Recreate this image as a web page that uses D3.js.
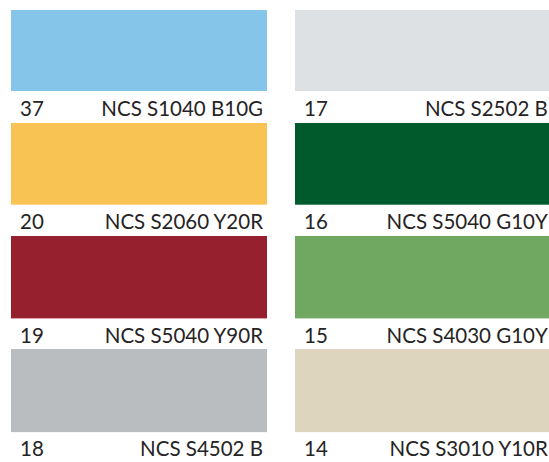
<!DOCTYPE html>
<html><head><meta charset="utf-8">
<script src="https://cdn.jsdelivr.net/npm/d3@7/dist/d3.min.js"></script>
<style>html,body{margin:0;padding:0;background:#fff;overflow:hidden}</style>
</head><body><div id="chart"></div>
<script>
const numbers = [37, 20, 19, 18, 17, 16, 15, 14];
const codes = ["NCS S1040 B10G","NCS S2060 Y20R","NCS S5040 Y90R","NCS S4502 B",
               "NCS S2502 B","NCS S5040 G10Y","NCS S4030 G10Y","NCS S3010 Y10R"];
const colors = ["#86c5ea","#f8c353","#97202e","#babdc0","#dee1e4","#015a2c","#70a862","#ddd5bd"];
const columns = [0,0,0,0,1,1,1,1];
const rows = [0,1,2,3,0,1,2,3];

const W = 549, H = 462;
const data = numbers.map((n,i)=>({n, code: codes[i], color: colors[i], col: columns[i], row: rows[i]}));
const x = d3.scaleLinear().domain([0,1]).range([11, 295]);
const y = d3.scaleLinear().domain([0,3]).range([10, 349]);
const sw = 256, sh = 81;

const svg = d3.select("#chart").append("svg").attr("width", W).attr("height", H);
const g = svg.selectAll("g.sw").data(data).join("g").attr("class","sw")
  .attr("transform", d=>`translate(${x(d.col)},${y(d.row)})`);
g.append("rect").attr("width", d=> sw + d.col*6).attr("height", d=> sh + d.row*0.7).attr("fill", d=>d.color);
g.append("text").attr("x", 9).attr("y", d=>105.5 + d.row*0.6)
  .attr("font-family","Lato, 'Open Sans', sans-serif").attr("font-size", 20.5).attr("fill","#262324")
  .text(d=>d.n);
g.append("text").attr("x", d=> sw - 4 + d.col*0.8).attr("y", d=>105.5 + d.row*0.6).attr("text-anchor","end")
  .attr("font-family","Lato, 'Open Sans', sans-serif").attr("font-size", 20.5).attr("fill","#262324")
  .text(d=>d.code);
</script></body></html>
